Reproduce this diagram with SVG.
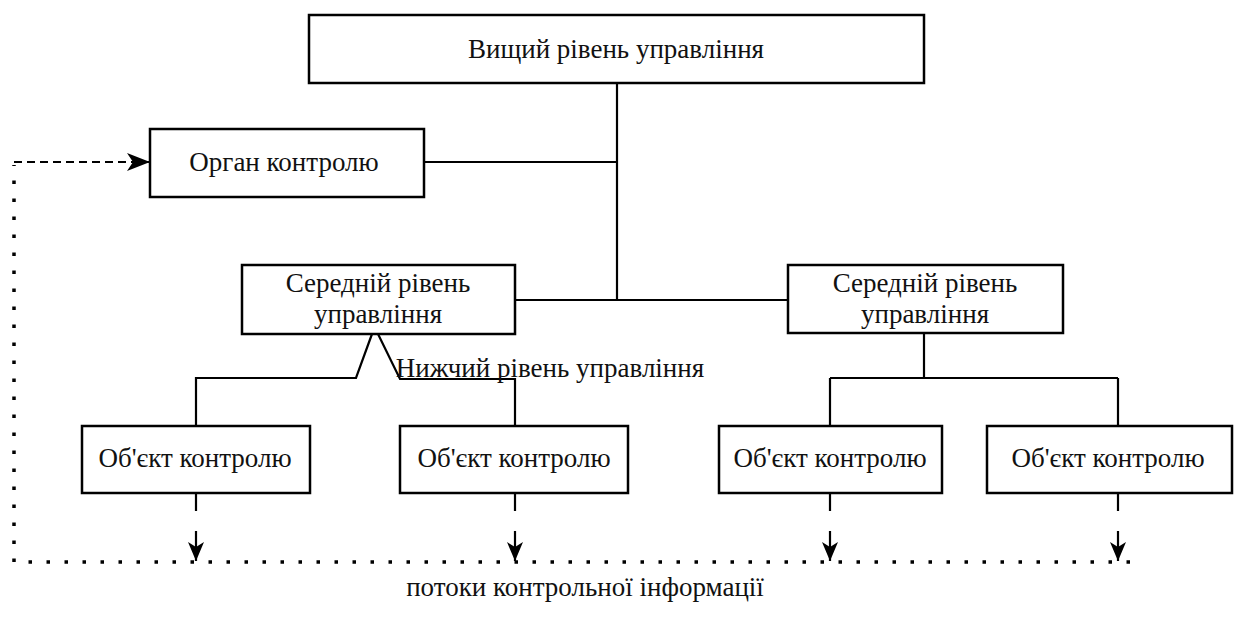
<svg xmlns="http://www.w3.org/2000/svg" width="1235" height="619" viewBox="0 0 1235 619">
<defs>
<style>
.box{fill:#fff;stroke:#000;stroke-width:2.5}
.t{font-family:"Liberation Serif","DejaVu Serif",serif;font-size:27px;fill:#111;text-anchor:middle}
.ln{fill:none;stroke:#000;stroke-width:2.2}
.dot{fill:none;stroke:#000;stroke-width:3.5;stroke-dasharray:3.5 14.5}
.dash{fill:none;stroke:#000;stroke-width:2.2;stroke-dasharray:8 5}
</style>
<marker id="ah" viewBox="0 0 24 20" refX="23" refY="10" markerWidth="24" markerHeight="20" markerUnits="userSpaceOnUse" orient="auto">
<path d="M0,1 L23,10 L0,19 L6,10 Z" fill="#000"/>
</marker>
<marker id="ahs" viewBox="0 0 20 18" refX="19" refY="9" markerWidth="20" markerHeight="18" markerUnits="userSpaceOnUse" orient="auto">
<path d="M0,1 L19,9 L0,17 L5,9 Z" fill="#000"/>
</marker>
</defs>
<rect width="1235" height="619" fill="#fff"/>
<g id="connectors">
<path class="ln" d="M617,83 V300"/>
<path class="ln" d="M424,162 H617"/>
<path class="ln" d="M515,300 H788"/>
<path class="ln" d="M372,334 L356,378 H196 V426"/>
<path class="ln" d="M378,334 L400,379 H515 V426"/>
<path class="ln" d="M924,333 V378 M830,378 H1118 M830,378 V426 M1118,378 V426"/>
<path class="ln" d="M196,493 V511 M515,493 V511 M830,493 V511 M1118,493 V511"/>
<path class="ln" marker-end="url(#ahs)" d="M196,531 V561"/>
<path class="ln" marker-end="url(#ahs)" d="M515,531 V561"/>
<path class="ln" marker-end="url(#ahs)" d="M830,531 V561"/>
<path class="ln" marker-end="url(#ahs)" d="M1118,531 V561"/>
<path class="dot" d="M1130,562 H14 V165"/>
<path class="dash" marker-end="url(#ah)" d="M14,162 H150"/>
</g>
<g id="top"><rect class="box" x="309" y="15" width="615" height="68"/><text class="t" x="616" y="58">Вищий рівень управління</text></g>
<g id="organ"><rect class="box" x="150" y="129" width="274" height="68"/><text class="t" x="284" y="171">Орган контролю</text></g>
<g id="mid1"><rect class="box" x="242" y="265" width="273" height="69"/><text class="t" x="378" y="292">Середній рівень</text><text class="t" x="378" y="323">управління</text></g>
<g id="mid2"><rect class="box" x="788" y="265" width="275" height="68"/><text class="t" x="925" y="292">Середній рівень</text><text class="t" x="925" y="323">управління</text></g>
<g id="lower-label"><text class="t" x="550" y="377">Нижчий рівень управління</text></g>
<g id="obj1"><rect class="box" x="82" y="426" width="228" height="67"/><text class="t" x="195" y="467">Об'єкт контролю</text></g>
<g id="obj2"><rect class="box" x="400" y="426" width="228" height="67"/><text class="t" x="514" y="467">Об'єкт контролю</text></g>
<g id="obj3"><rect class="box" x="719" y="426" width="223" height="67"/><text class="t" x="830" y="467">Об'єкт контролю</text></g>
<g id="obj4"><rect class="box" x="987" y="426" width="245" height="67"/><text class="t" x="1108" y="467">Об'єкт контролю</text></g>
<g id="flow-label"><text class="t" x="585" y="596">потоки контрольної інформації</text></g>
</svg>
